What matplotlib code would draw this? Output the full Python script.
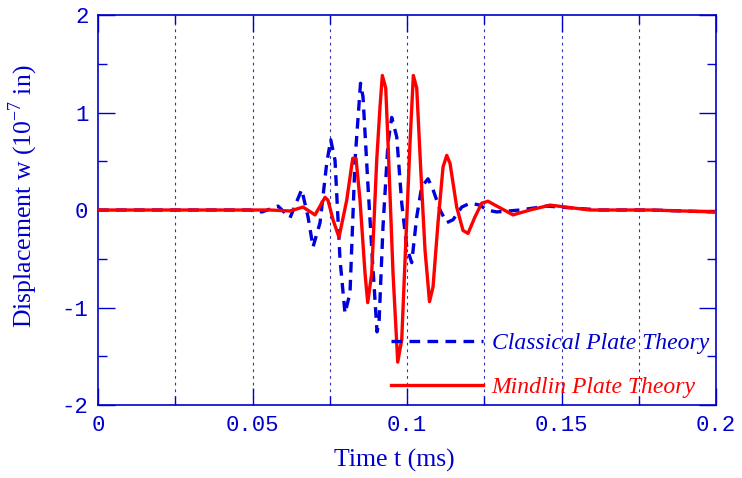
import numpy as np
import matplotlib.pyplot as plt
from matplotlib.ticker import MultipleLocator

plt.rcParams['axes.unicode_minus'] = False
plt.rcParams['mathtext.fontset'] = 'custom'
plt.rcParams['mathtext.rm'] = 'Liberation Serif'

# Respuesta en el tiempo (t en ms, w en 1e-7 in)
t_classical = [0.0, 0.04919, 0.05307, 0.05825, 0.06214, 0.06592, 0.06796, 0.06958,
               0.07185, 0.07401, 0.07531, 0.07670, 0.07832, 0.07993, 0.08155,
               0.08317, 0.08495, 0.08576, 0.08738, 0.08867, 0.09029, 0.09094,
               0.09223, 0.09385, 0.09505, 0.09667, 0.09829, 0.09990, 0.10152,
               0.10314, 0.10476, 0.10680, 0.10841, 0.11068, 0.11285, 0.11489,
               0.11770, 0.12039, 0.12362, 0.12579, 0.12903, 0.13657, 0.14531,
               0.16246, 0.17864, 0.2]
w_classical = [0.0, 0.0, -0.02, 0.04, -0.08, 0.21, -0.07, -0.38,
               -0.13, 0.48, 0.72, 0.51, -0.51, -1.06, -0.85,
               0.51, 1.30, 1.16, 0.24, -0.44, -1.25, -1.16,
               -0.17, 0.69, 0.95, 0.75, 0.07, -0.38, -0.54,
               -0.07, 0.24, 0.32, 0.21, 0.0, -0.13, -0.10,
               0.03, 0.07, 0.05, 0.0, -0.02, 0.0, 0.04,
               0.0, 0.0, -0.02]

t_mindlin = [0.0, 0.05566, 0.06214, 0.06634, 0.07023, 0.07346, 0.07443, 0.07605,
             0.07799, 0.08048, 0.08243, 0.08349, 0.08479, 0.08641, 0.08728,
             0.08857, 0.09019, 0.09126, 0.09201, 0.09311, 0.09385, 0.09547,
             0.09699, 0.09829, 0.09936, 0.10097, 0.10204, 0.10314, 0.10453,
             0.10582, 0.10728, 0.10841, 0.11003, 0.11165, 0.11285, 0.11391,
             0.11608, 0.11812, 0.11974, 0.12200, 0.12417, 0.12621, 0.12848,
             0.13430, 0.13980, 0.14628, 0.15922, 0.17864, 0.2]
w_mindlin = [0.0, 0.0, -0.01, 0.03, -0.05, 0.13, 0.10, -0.10,
             -0.28, 0.10, 0.53, 0.53, 0.10, -0.65, -0.95,
             -0.65, 0.51, 1.06, 1.38, 1.25, 0.69, -0.65,
             -1.56, -1.33, -0.51, 0.69, 1.38, 1.25, 0.36,
             -0.41, -0.94, -0.79, -0.13, 0.44, 0.56, 0.48,
             0.03, -0.21, -0.24, -0.07, 0.07, 0.09, 0.05,
             -0.05, 0.0, 0.05, 0.0, 0.0, -0.02]

x_ticks = [0, 0.05, 0.1, 0.15, 0.2]
x_ticklabels = ['0', '0.05', '0.1', '0.15', '0.2']
y_ticks = [-2, -1, 0, 1, 2]

blue = '#0000cc'
red = '#ff0000'

fig = plt.figure(figsize=(7.42, 4.78), dpi=100)
ax = fig.add_axes([0.1321, 0.1527, 0.8329, 0.8159])

# lineas verticales punteadas cada 0.025
for xv in np.arange(0.025, 0.2, 0.025):
    ax.axvline(xv, color='#1010aa', lw=0.8, ls=(0, (2.5, 3.5)), alpha=0.85, zorder=1)

ax.plot(t_classical, w_classical, color='#0000dd', lw=2.4, ls=(0, (3.2, 2.2)),
        label='Classical Plate Theory', zorder=3)
ax.plot(t_mindlin, w_mindlin, color=red, lw=2.4, label='Mindlin Plate Theory', zorder=4)

ax.set_xlim(0, 0.2)
ax.set_ylim(-2, 2)
ax.set_xticks(x_ticks)
ax.set_xticklabels(x_ticklabels)
ax.set_yticks(y_ticks)
ax.xaxis.set_minor_locator(MultipleLocator(0.025))
ax.yaxis.set_minor_locator(MultipleLocator(0.5))

ax.tick_params(which='both', direction='in', top=True, right=True, colors=blue,
               labelcolor=blue, width=1)
ax.tick_params(which='major', length=12, pad=7)
ax.tick_params(which='minor', length=6.5)
for lab in ax.get_xticklabels() + ax.get_yticklabels():
    lab.set_family('Liberation Mono')
    lab.set_fontsize(16)
for sp in ax.spines.values():
    sp.set_color(blue)
    sp.set_linewidth(1.2)

ax.set_xlabel('Time t (ms)', family='Liberation Serif', fontsize=18.5, color=blue)
ax.set_ylabel('Displacement w (10$^{-7}$ in)', family='Liberation Serif', fontsize=18.5,
              color=blue)
ax.xaxis.set_label_coords(0.48, -0.113)
ax.yaxis.set_label_coords(-0.094, 0.535)

leg = ax.legend(loc='lower right', frameon=False, handlelength=3.9, handletextpad=0.35,
                labelspacing=0.95, borderaxespad=0.0, borderpad=0.3,
                prop={'family': 'Liberation Serif', 'style': 'italic', 'size': 17})
for txt, col in zip(leg.get_texts(), [blue, red]):
    txt.set_color(col)

fig.savefig('out.png', dpi=100)
